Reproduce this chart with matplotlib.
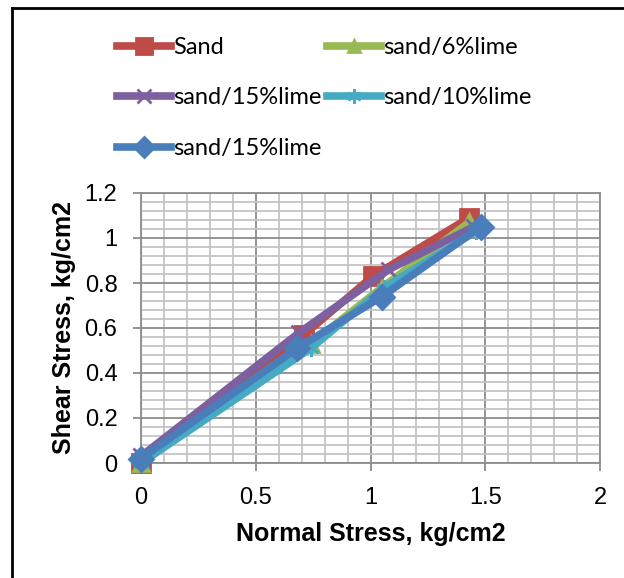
import numpy as np
import matplotlib
matplotlib.use("Agg")
import matplotlib.pyplot as plt
from matplotlib.lines import Line2D
from matplotlib.ticker import MultipleLocator

# data
labels = ["Sand", "sand/6%lime", "sand/15%lime", "sand/10%lime", "sand/15%lime"]
x_sand = [0, 0.71, 1.01, 1.43]
y_sand = [0.0, 0.57, 0.83, 1.09]
x_6 = [0, 0.74, 1.05, 1.43]
y_6 = [0.0, 0.53, 0.78, 1.07]
x_15a = [0, 0.69, 1.08, 1.45]
y_15a = [0.03, 0.58, 0.86, 1.05]
x_10 = [0, 0.74, 1.06, 1.46]
y_10 = [0.0, 0.51, 0.78, 1.03]
x_15b = [0, 0.68, 1.05, 1.48]
y_15b = [0.02, 0.51, 0.74, 1.05]

xs = [x_sand, x_6, x_15a, x_10, x_15b]
ys = [y_sand, y_6, y_15a, y_10, y_15b]
colors = ["#BE4B48", "#98B954", "#7D60A0", "#46AAC5", "#4A7EBB"]
markers = ["s", "^", "x", (6, 2, 0), "D"]
msizes = [13, 11, 12, 12, 12]

fig = plt.figure(figsize=(6.24, 5.78), dpi=100)
ax = fig.add_axes([141 / 624, 1 - 463 / 578, 459 / 624, 270 / 578])

handles = []
for x, y, c, m, ms, lab in zip(xs, ys, colors, markers, msizes, labels):
    h, = ax.plot(x, y, color=c, lw=5.5, marker=m, ms=ms, mew=2,
                 mfc=c, mec=c, label=lab, clip_on=False, zorder=3)
    handles.append(h)

ax.set_xlim(0, 2)
ax.set_ylim(0, 1.2)
ax.xaxis.set_major_locator(MultipleLocator(0.5))
ax.xaxis.set_minor_locator(MultipleLocator(0.1))
ax.yaxis.set_major_locator(MultipleLocator(0.2))
ax.yaxis.set_minor_locator(MultipleLocator(0.04))
ax.xaxis.set_major_formatter(lambda v, p: f"{v:g}")
ax.yaxis.set_major_formatter(lambda v, p: f"{v:g}")

ax.grid(which="major", color="#8c8c8c", lw=1.3)
ax.grid(which="minor", color="#c4c4c4", lw=1.3)
ax.set_axisbelow(True)
for s in ax.spines.values():
    s.set_color("#8c8c8c")
    s.set_linewidth(1.3)

ax.tick_params(which="major", length=6, color="#8c8c8c", width=1.3,
               labelsize=17)
ax.tick_params(axis="y", pad=11)
ax.tick_params(axis="x", pad=11)
ax.tick_params(which="minor", length=0)
for t in ax.get_xticklabels() + ax.get_yticklabels():
    t.set_family("Liberation Sans")

ax.set_xlabel("Normal Stress, kg/cm2", fontsize=18, fontweight="bold",
              family="Liberation Sans", labelpad=10)
ax.set_ylabel("Shear Stress, kg/cm2", fontsize=18, fontweight="bold",
              family="Liberation Sans", labelpad=6)

# legend, filled column-first so reorder to match row layout
order = [0, 2, 4, 1, 3]
fig.legend([handles[i] for i in order], [labels[i] for i in order],
           loc="upper left", bbox_to_anchor=(105 / 624, 1 - 25 / 578),
           ncol=2, frameon=False, prop={"family": "Lato", "size": 17},
           handlelength=2.3, handletextpad=0.1, columnspacing=0.2,
           labelspacing=1.25, markerscale=0.85, borderpad=0)

# chart frame on left and top
fig.add_artist(Line2D([12 / 624, 12 / 624], [0, 1 - 8 / 578], color="black", lw=2))
fig.add_artist(Line2D([12 / 624, 1], [1 - 8 / 578, 1 - 8 / 578], color="black", lw=2))

fig.savefig("out.png", dpi=100)
